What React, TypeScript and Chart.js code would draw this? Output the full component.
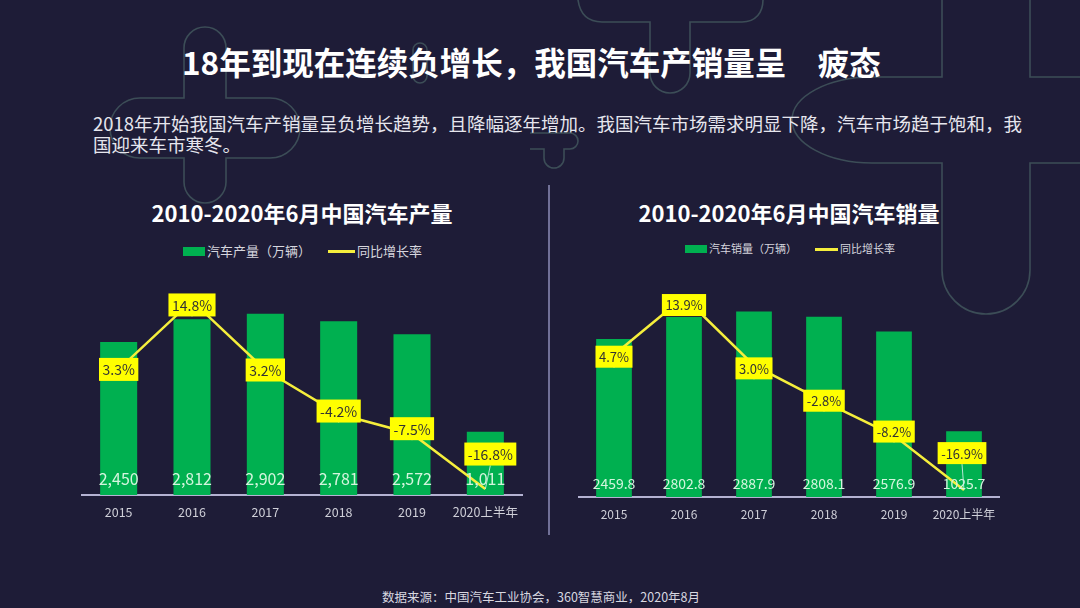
import React, { useEffect, useRef } from 'react';
import { Chart, registerables } from 'chart.js';

Chart.register(...registerables);

// ---------- data ----------
const years = ['2015', '2016', '2017', '2018', '2019', '2020上半年'];
const production = [2450, 2812, 2902, 2781, 2572, 1011];
const productionGrowth = [3.3, 14.8, 3.2, -4.2, -7.5, -16.8];
const sales = [2459.8, 2802.8, 2887.9, 2808.1, 2576.9, 1025.7];
const salesGrowth = [4.7, 13.9, 3.0, -2.8, -8.2, -16.9];

const slideTitle = '18年到现在连续负增长，我国汽车产销量呈\u3000疲态';
const subtitleLine1 = '2018年开始我国汽车产销量呈负增长趋势，且降幅逐年增加。我国汽车市场需求明显下降，汽车市场趋于饱和，我';
const subtitleLine2 = '国迎来车市寒冬。';
const sourceText = '数据来源：中国汽车工业协会，360智慧商业，2020年8月';

// ---------- styles ----------
const FONT = '"Noto Sans CJK SC", "Noto Sans", sans-serif';
const BG = '#1e1c37';
const GREEN = '#00b050';
const LINE_YELLOW = '#f5ee3c';
const LABEL_YELLOW = '#ffff00';
const VALUE_COLOR = '#d4f5de';
const TICK_COLOR = '#cfcfd8';
const AXIS_COLOR = '#b4b2d2';
const DECO = '#3c4d57';

type Cfg = {
  labels: string[];
  values: number[];
  rates: number[];
  fmt: (v: number) => string;
  yMax: number;
  y1Min: number;
  y1Max: number;
  tickSize: number;
  valueSize: number;
  labelSize: number;
  valueLift: number;
  shift: number[][];
  barPct: number;
  left: number;
  top: number;
  width: number;
  height: number;
  padL: number;
  padR: number;
};

function ComboChart(props: { cfg: Cfg }) {
  const ref = useRef<HTMLCanvasElement | null>(null);
  const cfg = props.cfg;
  useEffect(() => {
    if (!ref.current) return;
    const labelPlugin = {
      id: 'valueLabels',
      afterDatasetsDraw(chart: any) {
        const ctx = chart.ctx;
        const barMeta = chart.getDatasetMeta(0);
        const lineMeta = chart.getDatasetMeta(1);
        ctx.save();
        ctx.textAlign = 'center';
        ctx.textBaseline = 'middle';
        ctx.font = `${cfg.valueSize}px ${FONT}`;
        ctx.fillStyle = VALUE_COLOR;
        barMeta.data.forEach((el: any, i: number) => {
          const p = el.getProps(['x', 'base'], true);
          ctx.fillText(cfg.fmt(cfg.values[i]), p.x, p.base - cfg.valueLift);
        });
        ctx.font = `${cfg.labelSize}px ${FONT}`;
        lineMeta.data.forEach((pt: any, i: number) => {
          const [dx, dy] = cfg.shift[i];
          const cx = pt.x + dx;
          const cy = pt.y + dy;
          const text = cfg.rates[i].toFixed(1) + '%';
          const w = ctx.measureText(text).width + 7;
          const h = cfg.labelSize + 9;
          if (dx !== 0 || dy !== 0) {
            ctx.strokeStyle = 'rgba(210,240,235,0.85)';
            ctx.lineWidth = 1;
            ctx.beginPath();
            ctx.moveTo(cx, cy + h / 2);
            ctx.lineTo(pt.x, pt.y);
            ctx.stroke();
          }
          ctx.fillStyle = LABEL_YELLOW;
          ctx.fillRect(cx - w / 2, cy - h / 2, w, h);
          ctx.fillStyle = '#333333';
          ctx.fillText(text, cx, cy + 0.5);
        });
        ctx.restore();
      },
    };
    const chart = new Chart(ref.current, {
      type: 'bar',
      data: {
        labels: cfg.labels,
        datasets: [
          {
            type: 'bar',
            data: cfg.values,
            backgroundColor: GREEN,
            yAxisID: 'y',
            barPercentage: cfg.barPct,
            categoryPercentage: 1,
            order: 1,
          } as any,
          {
            type: 'line',
            data: cfg.rates,
            borderColor: LINE_YELLOW,
            backgroundColor: LINE_YELLOW,
            borderWidth: 2.5,
            pointRadius: 0,
            tension: 0,
            yAxisID: 'y1',
            order: 0,
          } as any,
        ],
      },
      options: {
        responsive: false,
        devicePixelRatio: 1,
        animation: false,
        events: [],
        layout: { padding: { left: cfg.padL, right: cfg.padR, top: 15, bottom: 5 } },
        plugins: {
          legend: { display: false },
          title: { display: false },
          tooltip: { enabled: false },
        },
        scales: {
          x: {
            grid: { display: false, drawTicks: false },
            border: { display: true, color: AXIS_COLOR, width: 2 },
            ticks: { color: TICK_COLOR, font: { family: FONT, size: cfg.tickSize }, padding: 10, maxRotation: 0 },
            afterFit: (s: any) => {
              s.height = 30;
            },
          },
          y: { display: false, min: 0, max: cfg.yMax },
          y1: { display: false, min: cfg.y1Min, max: cfg.y1Max },
        },
      } as any,
      plugins: [labelPlugin],
    });
    return () => chart.destroy();
  }, []);
  return (
    <canvas
      ref={ref}
      width={cfg.width}
      height={cfg.height}
      style={{ position: 'absolute', left: cfg.left, top: cfg.top, width: cfg.width, height: cfg.height }}
    />
  );
}

function Txt(props: { x: number; cy: number; size: number; lh?: number; color?: string; weight?: number; children: any; center?: number }) {
  const lh = props.lh ?? Math.round(props.size * 1.3);
  const style: any = {
    position: 'absolute',
    top: props.cy - lh / 2 - props.size * 0.06,
    fontSize: props.size,
    lineHeight: lh + 'px',
    color: props.color ?? '#ffffff',
    fontWeight: props.weight ?? 400,
    fontFamily: FONT,
    whiteSpace: 'nowrap',
  };
  if (props.center !== undefined) {
    style.left = props.x;
    style.width = props.center;
    style.textAlign = 'center';
  } else {
    style.left = props.x;
  }
  return <div style={style}>{props.children}</div>;
}

function Legend(props: {
  barX: number; barY: number; barW: number; barH: number; text1X: number;
  lineX: number; lineW: number; text2X: number; cy: number; size: number; text1: string; text2: string;
}) {
  const p = props;
  return (
    <>
      <div style={{ position: 'absolute', left: p.barX, top: p.barY, width: p.barW, height: p.barH, background: GREEN }} />
      <Txt x={p.text1X} cy={p.cy} size={p.size} color="#d6d6de">{p.text1}</Txt>
      <div style={{ position: 'absolute', left: p.lineX, top: p.cy - 1.5, width: p.lineW, height: 3, background: LINE_YELLOW }} />
      <Txt x={p.text2X} cy={p.cy} size={p.size} color="#d6d6de">{p.text2}</Txt>
    </>
  );
}

const leftCfg: Cfg = {
  labels: years,
  values: production,
  rates: productionGrowth,
  fmt: (v: number) => v.toLocaleString('en-US'),
  yMax: 4000,
  y1Min: -17.8,
  y1Max: 24.2,
  tickSize: 12.5,
  valueSize: 16,
  labelSize: 14,
  valueLift: 16,
  shift: [[0, 0], [0, 4], [0, 0], [0, -3], [0, -5], [5, -35]],
  barPct: 0.505,
  left: 70,
  top: 230,
  width: 470,
  height: 300,
  padL: 12,
  padR: 18,
};

const rightCfg: Cfg = {
  labels: years,
  values: sales,
  rates: salesGrowth,
  fmt: (v: number) => v.toFixed(1),
  yMax: 3925,
  y1Min: -18,
  y1Max: 22.2,
  tickSize: 12,
  valueSize: 14,
  labelSize: 13,
  valueLift: 13,
  shift: [[0, 2], [0, 8], [0, 3], [0, -1], [0, -4], [-2, -37]],
  barPct: 0.51,
  left: 567,
  top: 230,
  width: 450,
  height: 302,
  padL: 12,
  padR: 18,
};

export default function App() {
  return (
    <div style={{ position: 'fixed', left: 0, top: 0, width: 1080, height: 608, background: BG, overflow: 'hidden' }}>
      <svg width={1080} height={608} style={{ position: 'absolute', left: 0, top: 0 }}>
        <g fill="none" stroke={DECO} strokeWidth={1.6}>
          <path d="M 578 0 C 580 14 588 22 602 22 H 650 V 73 A 20 20 0 0 0 690 73 V 22 H 742 C 756 22 763 12 763 0" />
          <path d="M 942 0 V 77 H 872 A 80 43 0 0 0 872 163 H 942 V 270 A 44 44 0 0 0 1030 270 V 163 H 1080" />
          <path d="M 1030 0 V 77 H 1080" />
          <path d="M 184 48 A 21 21 0 0 1 226 48 V 98 H 270 A 30 30 0 0 1 270 158 H 226 V 182 A 21 21 0 0 1 184 182 V 158 H 140 A 30 30 0 0 1 140 98 H 184 Z" />
          <path d="M 413 50 A 7 7 0 0 1 427 50 V 76 A 7 7 0 0 1 413 76 Z" />
          <path d="M 530 133 H 570 A 8 8 0 0 1 570 149 H 564 V 158 A 10 10 0 0 1 544 158 V 149 H 530" />
        </g>
        <line x1={549} y1={185} x2={549} y2={535} stroke="#8e8cb8" strokeWidth={1.5} />
      </svg>

      <Txt x={182} cy={63} size={31.5} lh={40} weight={700}>{slideTitle}</Txt>
      <Txt x={93} cy={125} size={18.5} lh={21} color="#e6e6ee">{subtitleLine1}</Txt>
      <Txt x={93} cy={146} size={18.5} lh={21} color="#e6e6ee">{subtitleLine2}</Txt>

      <Txt x={82} center={440} cy={213} size={22} lh={28} weight={700}>2010-2020年6月中国汽车产量</Txt>
      <Txt x={579} center={420} cy={213} size={22} lh={28} weight={700}>2010-2020年6月中国汽车销量</Txt>

      <Legend barX={183} barY={247} barW={22} barH={9} text1X={207} lineX={328} lineW={27} text2X={357}
        cy={251.5} size={13} text1="汽车产量（万辆）" text2="同比增长率" />
      <Legend barX={685} barY={245} barW={22} barH={8} text1X={709} lineX={815} lineW={23} text2X={840}
        cy={249} size={11} text1="汽车销量（万辆）" text2="同比增长率" />

      <ComboChart cfg={leftCfg} />
      <ComboChart cfg={rightCfg} />

      <Txt x={382} cy={598} size={12.5} lh={16} color="#d8d8e0">{sourceText}</Txt>
    </div>
  );
}
